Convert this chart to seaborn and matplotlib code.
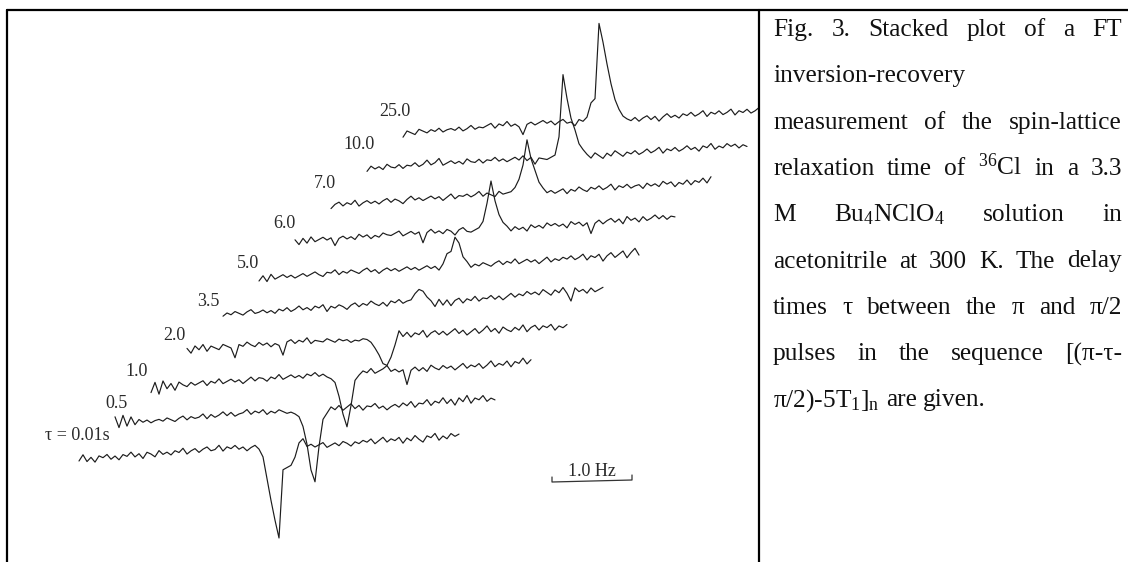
import numpy as np
import matplotlib
matplotlib.use("Agg")
import matplotlib.pyplot as plt
import seaborn as sns
from matplotlib.lines import Line2D

# picture size in pixels (dpi 100)
W, H = 1128, 562

# frequency grid of every spectrum, Hz
freq = np.round(np.arange(96) * 0.05, 2)

# delay times, bottom trace first
tau_labels = ["τ = 0.01s", "0.5", "1.0", "2.0", "3.5", "5.0", "6.0", "7.0", "10.0", "25.0"]

# intensities (arbitrary units, relative to each baseline)
sig_001 = [-2, 4, -3, 1, -4, 2, 0, 3, -2, 1, -3, 2,
           0, 4, -1, 2, -3, 3, 1, -2, 4, 0, 2, -1,
           3, 1, 5, -1, 2, 4, 0, 3, 5, 1, 2, 6,
           0, 4, 2, 5, 1, 3, -1, 2, 4, 0,
           -8, -30, -52, -72, -90, -22, -20, -18, -10, 4, 8, 0,
           2, -1, 1, 3, -2, 0, 2, -1, 3, 1, -2, 2,
           0, 3, 1, 4, -1, 2, 5, 0, 3, 1, 4, -2,
           3, 0, 5, 1, -2, 4, 2, 6, -1, 3, 0, 5, 2, 4]
sig_05 = [6, -5, 7, -4, 5, -3, 2, -1, 1, -2, 0, 1,
          -1, 2, 0, -2, 1, 3, -1, 2, 0, 1, 4, -1,
          3, 0, 2, 5, 1, 4, 0, 2, 3, 6, 1, 4,
          2, 5, 0, 3, 1, 4, 2, 0, 1, -1,
          -4, -14, -32, -58, -70, -35, -8, -2,
          4, 1, 5, 0, 3, 6, 1, 4, -1, 3, 2, 5,
          0, 2, -2, 1, 3, 0, 4, 1, 5, -1, 3, 2,
          6, 0, 4, 2, 7, 1, 5, -1, 6, 2, 8, 0, 5, 3, 7, 1, 4, 2]
sig_1 = [-6, 4, -8, 5, -3, 2, -5, 3, 0, -2, 2, -1,
         1, 3, -2, 2, 0, 4, -1, 1, 3, 0, 2, -2,
         1, 4, 0, 3, 2, -1, 3, 1, 5, 0, 2, 4,
         1, 3, 0, 4, 2, 5, 1, 3, 0,
         -2, -6, -20, -38, -51, -30, -5, 0,
         4, 2, 6, 1, 3, 5, 8, 2, 4, 1, 3, -12,
         2, 5, 1, 4, 0, 6, 3, 1, 5, 2, 4, 0,
         3, 6, 1, 4, 2, 5, 0, 3, 7, 1, 4, 2, 6, 0, 5, 3, 8, 2, 6]
sig_2 = [2, -3, 4, 0, 5, -2, 3, 1, -1, 4, 2, 0,
         -10, 3, 1, 5, 2, 0, 4, 1, 3, -1, 2, 0,
         -10, 3, 5, 1, 4, 2, 6, 0, 3, 2, 1, 4,
         2, 0, 3, 1, 2, -1, 1, 0, 2, 1,
         -2, -8, -15, -24, -26, -18, -6, 8,
         2, 6, 1, 5, 3, 7, 0, 4, 6, 2, 5, 1,
         4, 7, 2, 5, 0, 3, 6, 1, 4, 8, 2, 5,
         0, 6, 3, 1, 5, 2, 7, 0, 4, 6, 1, 5, 3, 6, 0, 4, 2, 5]
sig_35 = [-2, 1, -1, 2, 0, -2, 1, 3, -1, 0, 2, -1,
          1, -2, 2, 0, 3, -1, 1, 4, 0, 2, -1, 3,
          1, 4, -3, 2, 0, 3, 1, -2, 2, 4, 0, 3,
          1, 5, 2, 0, 3, -1, 4, 2, 5, 1, 3,
          4, 10, 14, 12, 6, 2,
          -4, 3, -3, 2, -4, 1, 3, -2, 2, 0, 4, -1,
          2, 1, 4, 0, 3, -1, 2, 5, 1, 4, 2, 6,
          3, 5, 2, 7, 4, 1, 6, 3, 8, 2, -6, 7, 3, 5, 1, 6, 2, 4, 6]
sig_5 = [-3, 2, -4, 3, -2, 0, 2, -1, 1, -2, 0, 2,
         -1, 1, 3, 0, -2, 2, 1, 4, -1, 2, 0, 3,
         1, -1, 2, 4, 0, 2, -2, 1, 3, 0, 2, -1,
         1, 3, 0, 2, -1, 1, 3, 0, 2, -2,
         4, 14, 16, 30, 24, 10, 5,
         -1, 2, 0, 3, 1, -1, 2, 4, 0, 3, 1, 5,
         0, 2, 4, 1, 3, -1, 2, 5, 0, 3, 1, 4,
         2, 5, 1, 3, 6, 0, 4, 2, 5, -2, 3, 6, 1, 4, 7, 0, 5, 9, 2]
sig_6 = [2, -3, 3, -2, 4, -1, 1, 3, 0, 2, -6, 1,
         3, 0, 2, -1, 4, 1, 3, -1, 2, 0, 4, 2,
         1, 3, 5, 0, 2, 4, 1, 3, -8, 2, 5, 1,
         3, 0, 4, 2, -2, 3, 5, 1, 0, 2,
         4, 10, 28, 50, 30, 16, 8, 4,
         -1, 3, 0, 2, -2, 4, 1, 3, 0, 5, 2, 4,
         1, 3, -1, 5, 2, 4, 0, 3, -8, 2, 5, 1,
         4, 6, 2, 5, 0, 7, 3, 5, 1, 6, 2, 4, 7, 3, 6, 2, 5, 4]
sig_7 = [-3, 1, 3, -1, 2, 0, 4, -2, 1, 3, 0, 2,
         -1, 2, 4, 0, 3, 1, -2, 2, 5, 1, 3, 0,
         2, 4, 1, 3, -1, 2, 5, 0, 3, 2, 4, 1,
         3, 6, 1, 4, 2, 0, 5, 2, 3,
         4, 8, 16, 30, 55, 36, 24, 12, 6,
         1, 3, 0, 2, 4, -1, 3, 1, 5, 2, 0, 4,
         2, 5, 1, 3, 6, 0, 4, 2, 5, 1, 3, 4,
         0, 5, 2, 4, 1, 6, 3, 5, 0, 4, 2, 6, 1, 5, 3, 7, 2, 8]
sig_10 = [-2, 3, 0, 2, -1, 4, 1, 0, 3, -1, 2, 1,
          4, 0, 2, 6, 1, 3, 7, 0, 2, 4, 1, 3,
          0, 5, 2, 1, 4, 0, 3, 2, 5, 1, 3, 0,
          2, 4, 1, 5, 0, 3, -4, 2, 1, 0,
          2, 4, 22, 84, 60, 40, 28, 14, 8, 3,
          -1, 4, 1, -2, 3, 0, 5, 2, -1, 3, 1, 4,
          0, 2, 5, 1, 3, 6, 0, 4, 2, 5, 1, 3,
          6, 2, 4, 0, 5, 3, 7, 1, 4, 2, 6, 3, 5, 1, 4, 2]
sig_25 = [-4, 2, 0, -2, 3, 1, -1, 2, 0, 3, -1, 1,
          2, 0, 3, -1, 1, 4, 0, 2, 1, 3, 5, 0,
          4, 2, 6, 1, 3, 0, -8, 2, 4, 1, 3, 5,
          2, 4, 0, 3, 5, 1, 2, -2, 4,
          2, 6, 20, 24, 99, 80, 58, 38, 22, 12, 5, 2,
          0, 3, -1, 2, 4, 0, 3, -2, 2, 5, 1, 3,
          0, 4, 2, 5, 1, 3, 6, 0, 4, 2, 5, 1,
          3, 6, 0, 4, 2, 5, 1, 3, 6, 2, 4, 0, 5, 3, 6]

traces = [sig_001, sig_05, sig_1, sig_2, sig_35, sig_5, sig_6, sig_7, sig_10, sig_25]
for s in traces:
    assert len(s) == len(freq)

caption = [
    ("Fig. 3. Stacked plot of a FT", True),
    ("inversion-recovery", False),
    ("measurement of the spin-lattice", True),
    ("relaxation time of ${}^{36}$Cl in a 3.3", True),
    ("M Bu${}_{4}$NClO${}_{4}$ solution in", True),
    ("acetonitrile at 300 K. The delay", True),
    ("times τ between the π and π/2", True),
    ("pulses in the sequence [(π-τ-", True),
    ("π/2)-5T${}_{1}$]${}_{\\mathrm{n}}$ are given.", False),
]

# layout (pixels / data units)
px_per_hz = 80.0
dx, dy, tilt, base = 0.45, 36.2, 4.4, 103
label_dx = [31, 13, -3, -2, -3, 0, 0, 5, 8, 8]
label_dy = [24, 19, 15, 15, 13, 14, 18, 22, 25, 22]

sns.set_theme(style="white")
plt.rcParams["font.family"] = ["Liberation Serif", "DejaVu Serif"]
plt.rcParams["mathtext.fontset"] = "custom"
plt.rcParams["mathtext.rm"] = "Liberation Serif"
plt.rcParams["mathtext.it"] = "Liberation Serif:italic"

fig = plt.figure(figsize=(W / 100, H / 100), dpi=100)
fig.patch.set_facecolor("white")
ax = fig.add_axes([8 / W, 0, 750 / W, 551 / H])

# -----------------------------
# stacked spectra
# -----------------------------
for i, (lab, sig) in enumerate(zip(tau_labels, traces)):
    x = freq + i * dx
    y = base + i * dy + tilt * freq + np.array(sig)
    sns.lineplot(x=x, y=y, ax=ax, color="#1c1c1c", lw=0.85, sort=False, estimator=None)
    ax.text(i * dx + label_dx[i] / px_per_hz, base + i * dy + label_dy[i], lab,
            ha="right", va="center", fontsize=13, color="#2a2a2a")

# 1.0 Hz scale bar
bar_x, bar_y = (552 - 79) / px_per_hz, 80
ax.plot([bar_x, bar_x, bar_x + 1.0, bar_x + 1.0], [bar_y + 5, bar_y, bar_y + 2, bar_y + 7],
        color="#333333", lw=0.9)
ax.text(bar_x + 0.5, bar_y + 10, "1.0 Hz", ha="center", va="center", fontsize=13, color="#2a2a2a")

ax.set_xlim((8 - 79) / px_per_hz, (758 - 79) / px_per_hz)
ax.set_ylim(0, 551)
ax.axis("off")

# -----------------------------
# table frame
# -----------------------------
lk = dict(color="black", lw=1.6, transform=fig.transFigure)
fig.add_artist(Line2D([7 / W, 1], [1 - 10 / H, 1 - 10 / H], **lk))
fig.add_artist(Line2D([7 / W, 7 / W], [0, 1 - 10 / H], **lk))
fig.add_artist(Line2D([759 / W, 759 / W], [0, 1 - 10 / H], **lk))

# -----------------------------
# justified caption
# -----------------------------
x0, x1 = 773, 1122
fs = 18.3
renderer = fig.canvas.get_renderer()
for n, (line, justify) in enumerate(caption):
    yb = 1 - (36 + n * 46.3) / H
    words = line.split(" ")
    texts = [fig.text(0, yb, w, fontsize=fs, color="#111111", ha="left", va="baseline")
             for w in words]
    widths = [t.get_window_extent(renderer=renderer).width for t in texts]
    if justify and len(words) > 1:
        gap = (x1 - x0 - sum(widths)) / (len(words) - 1)
    else:
        gap = 0.25 * fs * 100 / 72
    xp = x0
    for t, w in zip(texts, widths):
        t.set_x(xp / W)
        xp += w + gap

fig.savefig("out.png", dpi=100, facecolor="white")
